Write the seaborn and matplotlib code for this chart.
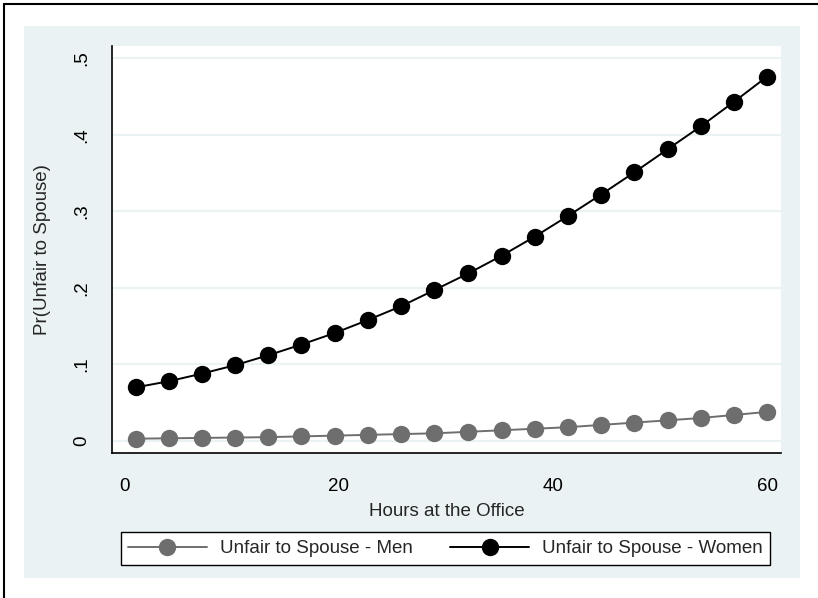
import pandas as pd
import matplotlib.pyplot as plt
import seaborn as sns
from matplotlib.patches import Rectangle
from matplotlib.lines import Line2D

# predicted probabilities
hours = [1.0, 4.1, 7.2, 10.3, 13.4, 16.5, 19.6, 22.7, 25.8, 28.9,
         32.1, 35.2, 38.3, 41.4, 44.5, 47.6, 50.7, 53.8, 56.9, 60.0]
pr_men = [0.003, 0.0035, 0.004, 0.0045, 0.005, 0.006, 0.007, 0.008, 0.009, 0.010,
          0.012, 0.014, 0.016, 0.018, 0.021, 0.024, 0.027, 0.030, 0.034, 0.038]
pr_women = [0.070, 0.078, 0.088, 0.099, 0.112, 0.126, 0.141, 0.158, 0.176, 0.197,
            0.219, 0.242, 0.267, 0.294, 0.322, 0.351, 0.381, 0.411, 0.443, 0.476]
series_names = ['Unfair to Spouse - Men', 'Unfair to Spouse - Women']
y_ticks = [0, 0.1, 0.2, 0.3, 0.4, 0.5]
y_ticklabels = ['0', '.1', '.2', '.3', '.4', '.5']
x_ticks = [0, 20, 40, 60]

df = pd.DataFrame({'hours': hours, 'men': pr_men, 'women': pr_women})

sns.set_theme(style="white")
plt.rcParams['font.family'] = ['Liberation Sans', 'DejaVu Sans']

bg = '#eaf2f3'
gray = '#6e6e6e'
fs = 13.5

fig = plt.figure(figsize=(8.18, 5.98), dpi=100)
fig.patch.set_facecolor('white')
fig.patches.append(Rectangle((24/818, 20/598), 776/818, 552/598, transform=fig.transFigure,
                             facecolor=bg, edgecolor='none', zorder=-5))
fig.lines.append(Line2D([4/818, 4/818], [0, 1 - 4/598], transform=fig.transFigure,
                        color='black', lw=1.5, zorder=-4))
fig.lines.append(Line2D([4/818, 1], [1 - 4/598, 1 - 4/598], transform=fig.transFigure,
                        color='black', lw=1.5, zorder=-4))

ax = fig.add_axes([112/818, 145/598, 669/818, 407/598])
ax.set_zorder(2)
ax.set_facecolor('white')

sns.lineplot(data=df, x='hours', y='men', ax=ax, color=gray, marker='o', markersize=12.5,
             markeredgewidth=0, linewidth=1.4, label=series_names[0], legend=False)
sns.lineplot(data=df, x='hours', y='women', ax=ax, color='black', marker='o', markersize=12.5,
             markeredgewidth=0, linewidth=1.4, label=series_names[1], legend=False)

ax.set_xlim(-1.2, 61.3)
ax.set_ylim(-0.0157, 0.516)
ax.set_xticks(x_ticks)
ax.set_yticks(y_ticks)
ax.set_yticklabels(y_ticklabels, rotation=90, va='center')
for yv in y_ticks:
    ax.axhline(yv, color=bg, lw=1.6, zorder=0)

ax.set_xlabel('Hours at the Office', fontsize=fs, labelpad=6)
ax.set_ylabel('Pr(Unfair to Spouse)', fontsize=fs, labelpad=16)
ax.tick_params(axis='both', direction='out', length=6, width=1.2, color='#333333',
               labelsize=fs, labelcolor='black')
ax.tick_params(axis='x', pad=12)
ax.tick_params(axis='y', pad=10)

for side in ['top', 'right']:
    ax.spines[side].set_visible(False)
for side in ['left', 'bottom']:
    ax.spines[side].set_color('black')
    ax.spines[side].set_linewidth(1.2)

handles = ax.get_lines()[:2]
leg = fig.legend(handles, series_names, loc='center', bbox_to_anchor=(445.5/818, 49.5/598),
                 ncol=2, fontsize=fs, frameon=True, fancybox=False, handlelength=4.2,
                 columnspacing=2.0, borderpad=0.4, handletextpad=0.7)
leg.get_frame().set_edgecolor('black')
leg.get_frame().set_facecolor('white')
leg.get_frame().set_alpha(1.0)
leg.get_frame().set_linewidth(1.0)

fig.savefig('out.png', dpi=100, facecolor='white')
